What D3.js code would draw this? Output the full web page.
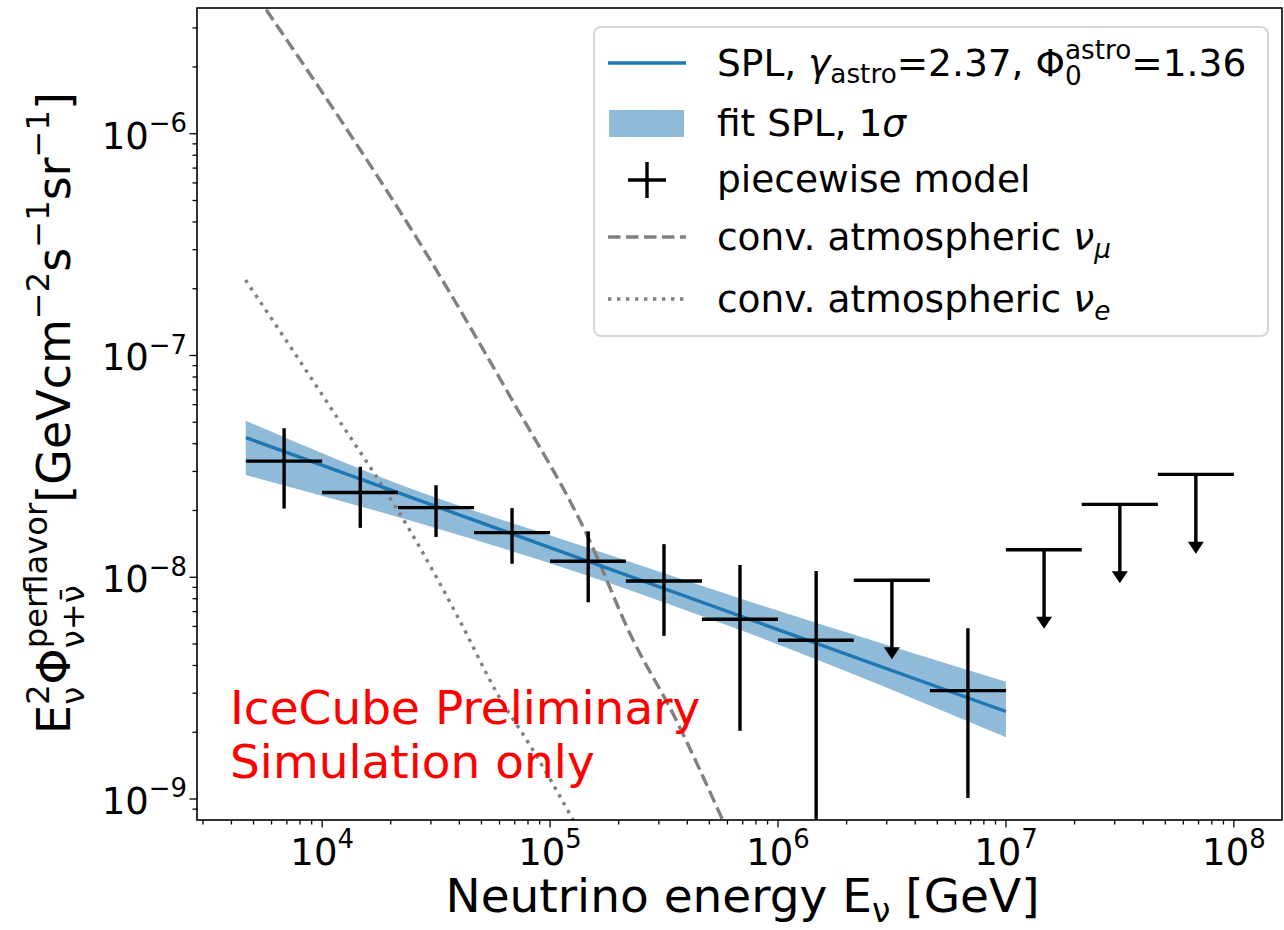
<!DOCTYPE html>
<html><head><meta charset="utf-8">
<script src="https://cdn.jsdelivr.net/npm/d3@7"></script>
<style>
html,body{margin:0;padding:0;background:#fff;}
svg text{font-family:"DejaVu Sans",sans-serif;white-space:pre;}
</style></head>
<body><svg id="chart" width="1284" height="930"></svg>
<script>
// ---------------- data ----------------
const xDomain = [2825, 1.626e8];
const yDomain = [8.04e-10, 3.69e-6];
const xTickValues = [1e4, 1e5, 1e6, 1e7, 1e8];
const xTickExp = ["4", "5", "6", "7", "8"];
const yTickValues = [1e-9, 1e-8, 1e-7, 1e-6];
const yTickExp = ["\u22129", "\u22128", "\u22127", "\u22126"];

// piecewise model: measured bins
const ptLow   = [4.63e3, 1e4, 2.15e4, 4.64e4, 1e5, 2.15e5, 4.64e5, 1e6, 4.64e6];
const ptHigh  = [1e4, 2.15e4, 4.64e4, 1e5, 2.15e5, 4.64e5, 1e6, 2.15e6, 1e7];
const ptE     = [6.81e3, 1.47e4, 3.16e4, 6.81e4, 1.47e5, 3.16e5, 6.81e5, 1.47e6, 6.81e6];
const ptFlux  = [3.34e-8, 2.41e-8, 2.06e-8, 1.59e-8, 1.18e-8, 9.62e-9, 6.46e-9, 5.20e-9, 3.08e-9];
const ptUpper = [4.70e-8, 3.15e-8, 2.60e-8, 2.05e-8, 1.61e-8, 1.41e-8, 1.136e-8, 1.067e-8, 5.89e-9];
const ptLower = [2.04e-8, 1.67e-8, 1.52e-8, 1.15e-8, 7.71e-9, 5.44e-9, 2.03e-9, 5e-10, 1.01e-9];

// piecewise model: upper limits
const ulLow   = [2.15e6, 1e7, 2.15e7, 4.64e7];
const ulHigh  = [4.64e6, 2.15e7, 4.64e7, 1e8];
const ulE     = [3.16e6, 1.47e7, 3.16e7, 6.81e7];
const ulFlux  = [9.69e-9, 1.331e-8, 2.13e-8, 2.91e-8];
const ulArrow = [4.27e-9, 5.85e-9, 9.39e-9, 1.276e-8];

// SPL best fit and 1 sigma band
const splE    = [4.63e3, 1e5, 1e7];
const splFlux = [4.26e-8, 1.36e-8, 2.48e-9];
const bandE     = [4.62e3, 2.67e4, 1.346e5, 6.78e5, 1e7];
const bandUpper = [5.08e-8, 2.43e-8, 1.398e-8, 8.04e-9, 3.38e-9];
const bandLower = [2.89e-8, 1.751e-8, 1.046e-8, 5.79e-9, 1.90e-9];

// conventional atmospheric fluxes
const numuE    = [4.63e3, 5.763e3, 1.318e4, 2.86e4, 6.75e4, 1.44e5, 2.31e5, 3.45e5, 5.63e5, 6.5e5];
const numuFlux = [4.94e-6, 3.55e-6, 1.004e-6, 2.89e-7, 6.41e-8, 1.58e-8, 5.22e-9, 2.44e-9, 8.33e-10, 6.0e-10];
const nueE     = [4.61e3, 1.024e4, 2.67e4, 4.00e4, 5.80e4, 8.40e4, 1.238e5, 1.4e5];
const nueFlux  = [2.19e-7, 6.41e-8, 1.374e-8, 6.42e-9, 3.05e-9, 1.665e-9, 8.33e-10, 6.6e-10];

const legendLabels = ["fit SPL, 1", "piecewise model", "conv. atmospheric ", "conv. atmospheric "];

// ---------------- drawing ----------------
const svg = d3.select("#chart");
const L = 197, R = 1282, T = 8, B = 820;
const x = d3.scaleLog().domain(xDomain).range([L, R]);
const y = d3.scaleLog().domain(yDomain).range([B, T]);
const BLUE = "#1f77b4", BAND = "#8fbbd9", GREY = "#808080";
const LW = 3.4;

svg.append("defs").append("clipPath").attr("id", "clip")
  .append("rect").attr("x", L).attr("y", T).attr("width", R - L).attr("height", B - T);
const plot = svg.append("g").attr("clip-path", "url(#clip)");

// band
const bandData = bandE.map((e, i) => ({e, u: bandUpper[i], l: bandLower[i]}));
plot.append("path").datum(bandData)
  .attr("d", d3.area().x(d => x(d.e)).y0(d => y(d.l)).y1(d => y(d.u)).curve(d3.curveMonotoneX))
  .attr("fill", BAND);

// atmospheric
const lineGen = d3.line().x(d => x(d[0])).y(d => y(d[1])).curve(d3.curveMonotoneX);
plot.append("path").datum(numuE.map((e, i) => [e, numuFlux[i]]))
  .attr("d", lineGen).attr("fill", "none").attr("stroke", GREY).attr("stroke-width", LW)
  .attr("stroke-dasharray", "12.5,5.5");
plot.append("path").datum(nueE.map((e, i) => [e, nueFlux[i]]))
  .attr("d", lineGen).attr("fill", "none").attr("stroke", GREY).attr("stroke-width", LW)
  .attr("stroke-dasharray", "3.4,5.6");

// SPL line
plot.append("path").datum(splE.map((e, i) => [e, splFlux[i]]))
  .attr("d", d3.line().x(d => x(d[0])).y(d => y(d[1])))
  .attr("fill", "none").attr("stroke", BLUE).attr("stroke-width", LW);

// points
const pts = ptE.map((e, i) => ({e, lo: ptLow[i], hi: ptHigh[i], f: ptFlux[i], u: ptUpper[i], l: ptLower[i]}));
const pg = plot.append("g").attr("stroke", "#000").attr("stroke-width", LW);
pg.selectAll(".h").data(pts).join("line")
  .attr("x1", d => x(d.lo)).attr("x2", d => x(d.hi)).attr("y1", d => y(d.f)).attr("y2", d => y(d.f));
pg.selectAll(".v").data(pts).join("line")
  .attr("x1", d => x(d.e)).attr("x2", d => x(d.e)).attr("y1", d => y(d.u)).attr("y2", d => y(d.l));

// upper limits
const uls = ulE.map((e, i) => ({e, lo: ulLow[i], hi: ulHigh[i], f: ulFlux[i], a: ulArrow[i]}));
const ug = plot.append("g");
ug.selectAll(".uh").data(uls).join("line").attr("stroke", "#000").attr("stroke-width", LW)
  .attr("x1", d => x(d.lo)).attr("x2", d => x(d.hi)).attr("y1", d => y(d.f)).attr("y2", d => y(d.f));
ug.selectAll(".uv").data(uls).join("line").attr("stroke", "#000").attr("stroke-width", LW)
  .attr("x1", d => x(d.e)).attr("x2", d => x(d.e)).attr("y1", d => y(d.f)).attr("y2", d => y(d.a) - 8);
ug.selectAll(".ua").data(uls).join("path").attr("fill", "#000")
  .attr("d", d => { const cx = x(d.e), ty = y(d.a); return `M${cx - 8},${ty - 12}L${cx + 8},${ty - 12}L${cx},${ty}Z`; });

// spines
svg.append("rect").attr("x", L).attr("y", T).attr("width", R - L).attr("height", B - T)
  .attr("fill", "none").attr("stroke", "#000").attr("stroke-width", 1.6);

// ticks
const ax = svg.append("g").attr("stroke", "#000").attr("stroke-width", 1.3);
for (let d = 3; d <= 8; d++) for (let k = 2; k <= 9; k++) {
  const v = k * Math.pow(10, d);
  if (v > xDomain[0] && v < xDomain[1]) ax.append("line").attr("x1", x(v)).attr("x2", x(v)).attr("y1", B).attr("y2", B + 4.5);
}
for (let d = -10; d <= -6; d++) for (let k = 2; k <= 9; k++) {
  const v = k * Math.pow(10, d);
  if (v > yDomain[0] && v < yDomain[1]) ax.append("line").attr("y1", y(v)).attr("y2", y(v)).attr("x1", L).attr("x2", L - 4.5);
}
xTickValues.forEach(v => ax.append("line").attr("x1", x(v)).attr("x2", x(v)).attr("y1", B).attr("y2", B + 7.5));
yTickValues.forEach(v => ax.append("line").attr("y1", y(v)).attr("y2", y(v)).attr("x1", L).attr("x2", L - 7.5));

// math-text helper: one <text>, tspans placed with measured widths
function mathText(parent, parts, fs, color) {
  const g = parent.append("g");
  const txt = g.append("text").attr("fill", color || "#000").attr("font-size", fs);
  let cx = 0, i = 0;
  const draw = (p, x0) => {
    const s = p.pos === "base" ? fs : fs * 0.7;
    let dy = 0;
    if (p.pos === "sup") dy = -fs * (p.up || 0.42);
    if (p.pos === "sub") dy = fs * (p.down || 0.2);
    const t = txt.append("tspan").attr("x", x0).attr("y", dy).attr("font-size", s)
      .attr("font-style", p.it ? "oblique" : "normal").text(p.t);
    return t.node().getComputedTextLength();
  };
  while (i < parts.length) {
    const p = parts[i], n = parts[i + 1];
    if (p.pos !== "base" && n && n.pos !== "base" && n.pos !== p.pos) {
      const w1 = draw(p, cx), w2 = draw(n, cx);
      cx += Math.max(w1, w2); i += 2;
    } else { cx += draw(p, cx); i += 1; }
  }
  return {g, width: cx};
}

// tick labels
const TFS = 37;
xTickValues.forEach((v, i) => {
  const m = mathText(svg, [{t: "10", pos: "base"}, {t: xTickExp[i], pos: "sup", up: 0.45}], TFS);
  m.g.attr("transform", `translate(${x(v) - m.width / 2},${865})`);
});
yTickValues.forEach((v, i) => {
  const m = mathText(svg, [{t: "10", pos: "base"}, {t: yTickExp[i], pos: "sup", up: 0.45}], TFS);
  m.g.attr("transform", `translate(${187 - m.width},${y(v) + 15})`);
});

// axis labels
const xl = mathText(svg, [{t: "Neutrino energy E", pos: "base"}, {t: "\u03bd", pos: "sub", down: 0.22}, {t: " [GeV]", pos: "base"}], 47);
xl.g.attr("transform", `translate(${(L + R) / 2 - xl.width / 2 + 3},912)`);

const yl = mathText(svg, [
  {t: "E", pos: "base"}, {t: "2", pos: "sup", up: 0.45}, {t: "\u03bd", pos: "sub", down: 0.3},
  {t: "\u03a6", pos: "base"}, {t: "perflavor", pos: "sup", up: 0.5}, {t: "\u03bd+\u03bd\u0304", pos: "sub", down: 0.3},
  {t: "[GeVcm", pos: "base"}, {t: "\u22122", pos: "sup", up: 0.45},
  {t: "s", pos: "base"}, {t: "\u22121", pos: "sup", up: 0.45},
  {t: "sr", pos: "base"}, {t: "\u22121", pos: "sup", up: 0.45},
  {t: "]", pos: "base"}], 46);
yl.g.attr("transform", `translate(70,${413 + yl.width / 2}) rotate(-90)`);

// watermark text
svg.append("text").attr("x", 230).attr("y", 724).attr("font-size", 47).attr("fill", "red").text("IceCube Preliminary");
svg.append("text").attr("x", 230).attr("y", 778).attr("font-size", 47).attr("fill", "red").text("Simulation only");

// legend
const lg = svg.append("g");
lg.append("rect").attr("x", 594).attr("y", 27).attr("width", 674).attr("height", 309).attr("rx", 7)
  .attr("fill", "#fff").attr("fill-opacity", 0.8).attr("stroke", "#d6d6d6").attr("stroke-width", 2);
lg.append("line").attr("x1", 608).attr("x2", 686).attr("y1", 63).attr("y2", 63).attr("stroke", BLUE).attr("stroke-width", LW);
lg.append("rect").attr("x", 609).attr("y", 110).attr("width", 75).attr("height", 27).attr("fill", BAND);
lg.append("line").attr("x1", 628).attr("x2", 666).attr("y1", 180).attr("y2", 180).attr("stroke", "#000").attr("stroke-width", LW);
lg.append("line").attr("x1", 647).attr("x2", 647).attr("y1", 162).attr("y2", 198).attr("stroke", "#000").attr("stroke-width", LW);
lg.append("line").attr("x1", 608).attr("x2", 686).attr("y1", 237).attr("y2", 237).attr("stroke", GREY).attr("stroke-width", LW).attr("stroke-dasharray", "12.5,5.5");
lg.append("line").attr("x1", 608).attr("x2", 686).attr("y1", 299).attr("y2", 299).attr("stroke", GREY).attr("stroke-width", LW).attr("stroke-dasharray", "3.4,5.6");

const LFS = 37.5;
const l1 = mathText(lg, [{t: "SPL, ", pos: "base"}, {t: "\u03b3", pos: "base", it: true}, {t: "astro", pos: "sub", down: 0.18},
  {t: "=2.37, \u03a6", pos: "base"}, {t: "astro", pos: "sup", up: 0.45}, {t: "0", pos: "sub", down: 0.25}, {t: "=1.36", pos: "base"}], LFS);
l1.g.attr("transform", "translate(717,76)");
const l2 = mathText(lg, [{t: legendLabels[0], pos: "base"}, {t: "\u03c3", pos: "base", it: true}], LFS);
l2.g.attr("transform", "translate(717,136)");
const l3 = mathText(lg, [{t: legendLabels[1], pos: "base"}], LFS);
l3.g.attr("transform", "translate(717,192)");
const l4 = mathText(lg, [{t: legendLabels[2], pos: "base"}, {t: "\u03bd", pos: "base", it: true}, {t: "\u03bc", pos: "sub", it: true, down: 0.2}], LFS);
l4.g.attr("transform", "translate(717,250)");
const l5 = mathText(lg, [{t: legendLabels[3], pos: "base"}, {t: "\u03bd", pos: "base", it: true}, {t: "e", pos: "sub", it: true, down: 0.2}], LFS);
l5.g.attr("transform", "translate(717,312)");
</script></body></html>
